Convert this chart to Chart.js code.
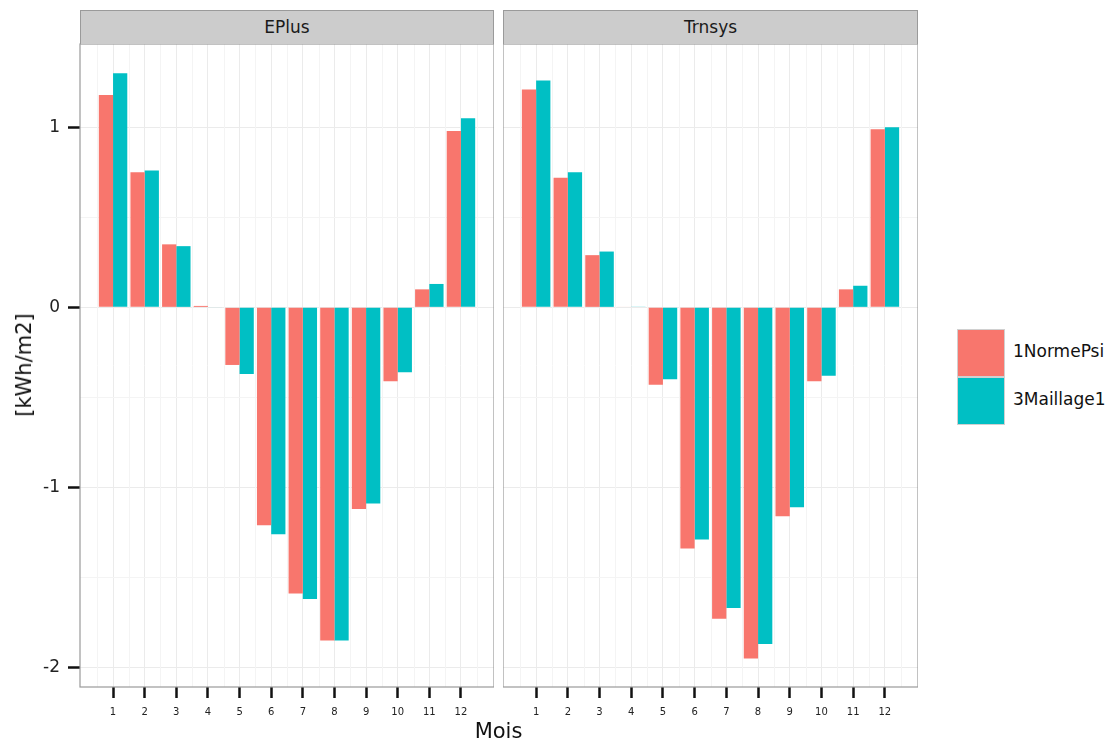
<!DOCTYPE html>
<html>
<head>
<meta charset="utf-8">
<script src="https://cdn.jsdelivr.net/npm/chart.js@4.4.0/dist/chart.umd.min.js"></script>
<style>
  body { margin: 0; background: #fff; font-family: "DejaVu Sans", Verdana, sans-serif; }
  #wrap { position: relative; width: 1111px; height: 744px; overflow: hidden; }
  .panel { position: absolute; top: 0; }
  .strip {
    position: absolute; top: 10px; height: 34px; box-sizing: border-box;
    background: #cccccc; border: 1px solid #9a9a9a; border-bottom: none;
    color: #1a1a1a; font-size: 17px; line-height: 33px; text-align: center;
  }
  #xTitle { position: absolute; left: 0; width: 997px; top: 719px; text-align: center; font-size: 21px; color: #111; }
  #yTitle {
    position: absolute; left: 24px; top: 365px; font-size: 21px; color: #111;
    transform: translate(-50%, -50%) rotate(-90deg); white-space: nowrap;
  }
  .key { position: absolute; left: 957px; width: 48px; height: 48px; box-sizing: border-box; border: 1px solid #d0d0d0; }
  .keyLabel { position: absolute; left: 1013px; font-size: 17px; color: #111; }
</style>
</head>
<body>
<div id="wrap">
  <div class="panel" style="left:0"><canvas id="chartEPlus" width="494" height="744"></canvas></div>
  <div class="panel" style="left:503px"><canvas id="chartTrnsys" width="415" height="744"></canvas></div>
  <div class="strip" style="left:80px;width:414px">EPlus</div>
  <div class="strip" style="left:503px;width:415px">Trnsys</div>
  <div id="xTitle">Mois</div>
  <div id="yTitle">[kWh/m2]</div>
  <div class="key" style="top:329px;background:#F8766D"></div>
  <div class="key" style="top:377px;background:#00BFC4"></div>
  <div class="keyLabel" style="top:341px">1NormePsi</div>
  <div class="keyLabel" style="top:389px">3Maillage1</div>
</div>

<script>
// mois
const months = [1, 2, 3, 4, 5, 6, 7, 8, 9, 10, 11, 12];
const yMajor = [-2, -1, 0, 1];
const yMinor = [-1.5, -0.5, 0.5];
const xMinor = [0.5, 1.5, 2.5, 3.5, 4.5, 5.5, 6.5, 7.5, 8.5, 9.5, 10.5, 11.5, 12.5];

const seriesNames = ['1NormePsi', '3Maillage1'];
const seriesColors = ['#F8766D', '#00BFC4'];

// EPlus
const eplusNorme    = [1.18, 0.75, 0.35, 0.008, -0.32, -1.21, -1.59, -1.85, -1.12, -0.41, 0.10, 0.98];
const eplusMaillage = [1.30, 0.76, 0.34, -0.003, -0.37, -1.26, -1.62, -1.85, -1.09, -0.36, 0.13, 1.05];
// Trnsys
const trnsysNorme    = [1.21, 0.72, 0.29, 0.003, -0.43, -1.34, -1.73, -1.95, -1.16, -0.41, 0.10, 0.99];
const trnsysMaillage = [1.26, 0.75, 0.31, 0.002, -0.40, -1.29, -1.67, -1.87, -1.11, -0.38, 0.12, 1.00];

// lignes secondaires de la grille + cadre du panneau
const panelPlugin = {
  id: 'panel',
  beforeDatasetsDraw(chart) {
    const { ctx, chartArea: a, scales: { x, y } } = chart;
    ctx.save();
    ctx.strokeStyle = '#f4f4f4';
    ctx.lineWidth = 1;
    ctx.beginPath();
    xMinor.forEach(v => { const px = Math.round(x.getPixelForValue(v)) + 0.5; ctx.moveTo(px, a.top); ctx.lineTo(px, a.bottom); });
    yMinor.forEach(v => { const py = Math.round(y.getPixelForValue(v)) + 0.5; ctx.moveTo(a.left, py); ctx.lineTo(a.right, py); });
    ctx.stroke();
    ctx.restore();
  },
  afterDraw(chart) {
    const { ctx, chartArea: a } = chart;
    ctx.save();
    ctx.strokeStyle = '#9a9a9a';
    ctx.lineWidth = 1.2;
    ctx.strokeRect(a.left, a.top, a.right - a.left, a.bottom - a.top);
    ctx.restore();
  }
};

function makePanel(id, values, showY) {
  const ctx = document.getElementById(id).getContext('2d');
  return new Chart(ctx, {
    type: 'bar',
    data: {
      datasets: values.map((vals, i) => ({
        label: seriesNames[i],
        data: months.map((m, j) => ({ x: m, y: vals[j] })),
        backgroundColor: seriesColors[i],
        borderWidth: 0,
        barPercentage: 1,
        categoryPercentage: 0.9
      }))
    },
    options: {
      responsive: false,
      animation: false,
      layout: { padding: { top: 44, left: 0, right: 0, bottom: 0 } },
      plugins: { legend: { display: false }, tooltip: { enabled: false } },
      scales: {
        x: {
          type: 'linear',
          offset: false,
          min: -0.045,
          max: 13.045,
          afterBuildTicks: s => { s.ticks = months.map(v => ({ value: v })); },
          afterFit: s => { s.height = 57; },
          border: { display: false },
          grid: { offset: false, color: '#ebebeb', lineWidth: 1, tickColor: '#111', tickWidth: 2.5, tickLength: 11 },
          ticks: { color: '#222', font: { family: 'DejaVu Sans', size: 10 }, padding: 8, maxRotation: 0, autoSkip: false }
        },
        y: {
          type: 'linear',
          min: -2.109,
          max: 1.463,
          afterBuildTicks: s => { s.ticks = yMajor.map(v => ({ value: v })); },
          afterFit: s => { s.width = showY ? 80 : 0; },
          border: { display: false },
          grid: { color: '#ebebeb', lineWidth: 1, drawTicks: showY, tickColor: '#111', tickWidth: 2.5, tickLength: 12 },
          ticks: { display: showY, color: '#222', font: { family: 'DejaVu Sans', size: 17 }, padding: 8 }
        }
      }
    },
    plugins: [panelPlugin]
  });
}

makePanel('chartEPlus', [eplusNorme, eplusMaillage], true);
makePanel('chartTrnsys', [trnsysNorme, trnsysMaillage], false);
</script>
</body>
</html>
